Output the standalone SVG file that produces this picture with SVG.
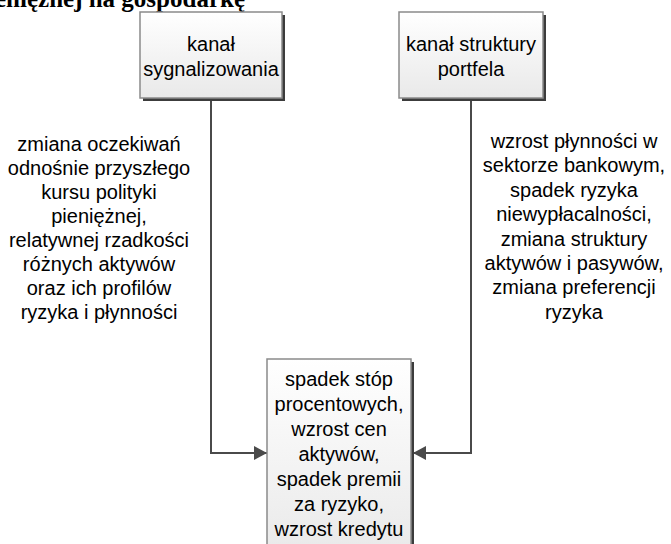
<svg xmlns="http://www.w3.org/2000/svg" width="671" height="544" viewBox="0 0 671 544">
<defs>
<linearGradient id="g" x1="0" y1="0" x2="0" y2="1">
<stop offset="0" stop-color="#ffffff"/>
<stop offset="1" stop-color="#e9e9e9"/>
</linearGradient>
<marker id="ah" markerWidth="13" markerHeight="14" refX="13" refY="7" orient="auto" markerUnits="userSpaceOnUse">
<path d="M0,0 L13,7 L0,14 z" fill="#4a4a4a"/>
</marker>
<style>
.shadow{fill:#3c3c3c}
.box{fill:url(#g);stroke:#8a8a8a;stroke-width:1.5}
.t{font-family:"Liberation Sans",Arial,sans-serif;font-size:20px;fill:#000;text-anchor:middle}
.title{font-family:"Liberation Serif","Times New Roman",serif;font-size:25px;font-weight:bold;fill:#000;text-anchor:end}
.c{fill:none;stroke:#4a4a4a;stroke-width:2}
</style>
</defs>
<rect width="671" height="544" fill="#fff"/>
<text class="title" x="245" y="7">pieniężnej na gospodarkę</text>

<g id="connectors">
<path class="c" d="M211,99 V453 H267" marker-end="url(#ah)"/>
<path class="c" d="M471,99 V453 H413" marker-end="url(#ah)"/>
</g>

<g id="kanal-sygnalizowania">
<rect class="shadow" x="143" y="15" width="142" height="86"/>
<rect class="box" x="140" y="12" width="142" height="86"/>
<text class="t" x="211" y="51">kanał</text>
<text class="t" x="211" y="76">sygnalizowania</text>
</g>

<g id="kanal-struktury-portfela">
<rect class="shadow" x="402" y="15" width="144" height="86"/>
<rect class="box" x="399" y="12" width="144" height="86"/>
<text class="t" x="471" y="51">kanał struktury</text>
<text class="t" x="471" y="76">portfela</text>
</g>

<g id="opis-lewy">
<text class="t" x="99" y="151">zmiana oczekiwań</text>
<text class="t" x="99" y="175">odnośnie przyszłego</text>
<text class="t" x="99" y="199">kursu polityki</text>
<text class="t" x="99" y="223">pieniężnej,</text>
<text class="t" x="99" y="247">relatywnej rzadkości</text>
<text class="t" x="99" y="271">różnych aktywów</text>
<text class="t" x="99" y="295">oraz ich profilów</text>
<text class="t" x="99" y="319">ryzyka i płynności</text>
</g>

<g id="opis-prawy">
<text class="t" x="574" y="148">wzrost płynności w</text>
<text class="t" x="574" y="172">sektorze bankowym,</text>
<text class="t" x="574" y="197">spadek ryzyka</text>
<text class="t" x="574" y="221">niewypłacalności,</text>
<text class="t" x="574" y="246">zmiana struktury</text>
<text class="t" x="574" y="270">aktywów i pasywów,</text>
<text class="t" x="574" y="294">zmiana preferencji</text>
<text class="t" x="574" y="319">ryzyka</text>
</g>

<g id="efekty">
<rect class="shadow" x="270" y="362" width="144" height="200"/>
<rect class="box" x="267" y="359" width="144" height="200"/>
<text class="t" x="339" y="386">spadek stóp</text>
<text class="t" x="339" y="411">procentowych,</text>
<text class="t" x="339" y="436">wzrost cen</text>
<text class="t" x="339" y="461">aktywów,</text>
<text class="t" x="339" y="486">spadek premii</text>
<text class="t" x="339" y="511">za ryzyko,</text>
<text class="t" x="339" y="536">wzrost kredytu</text>
</g>
</svg>
